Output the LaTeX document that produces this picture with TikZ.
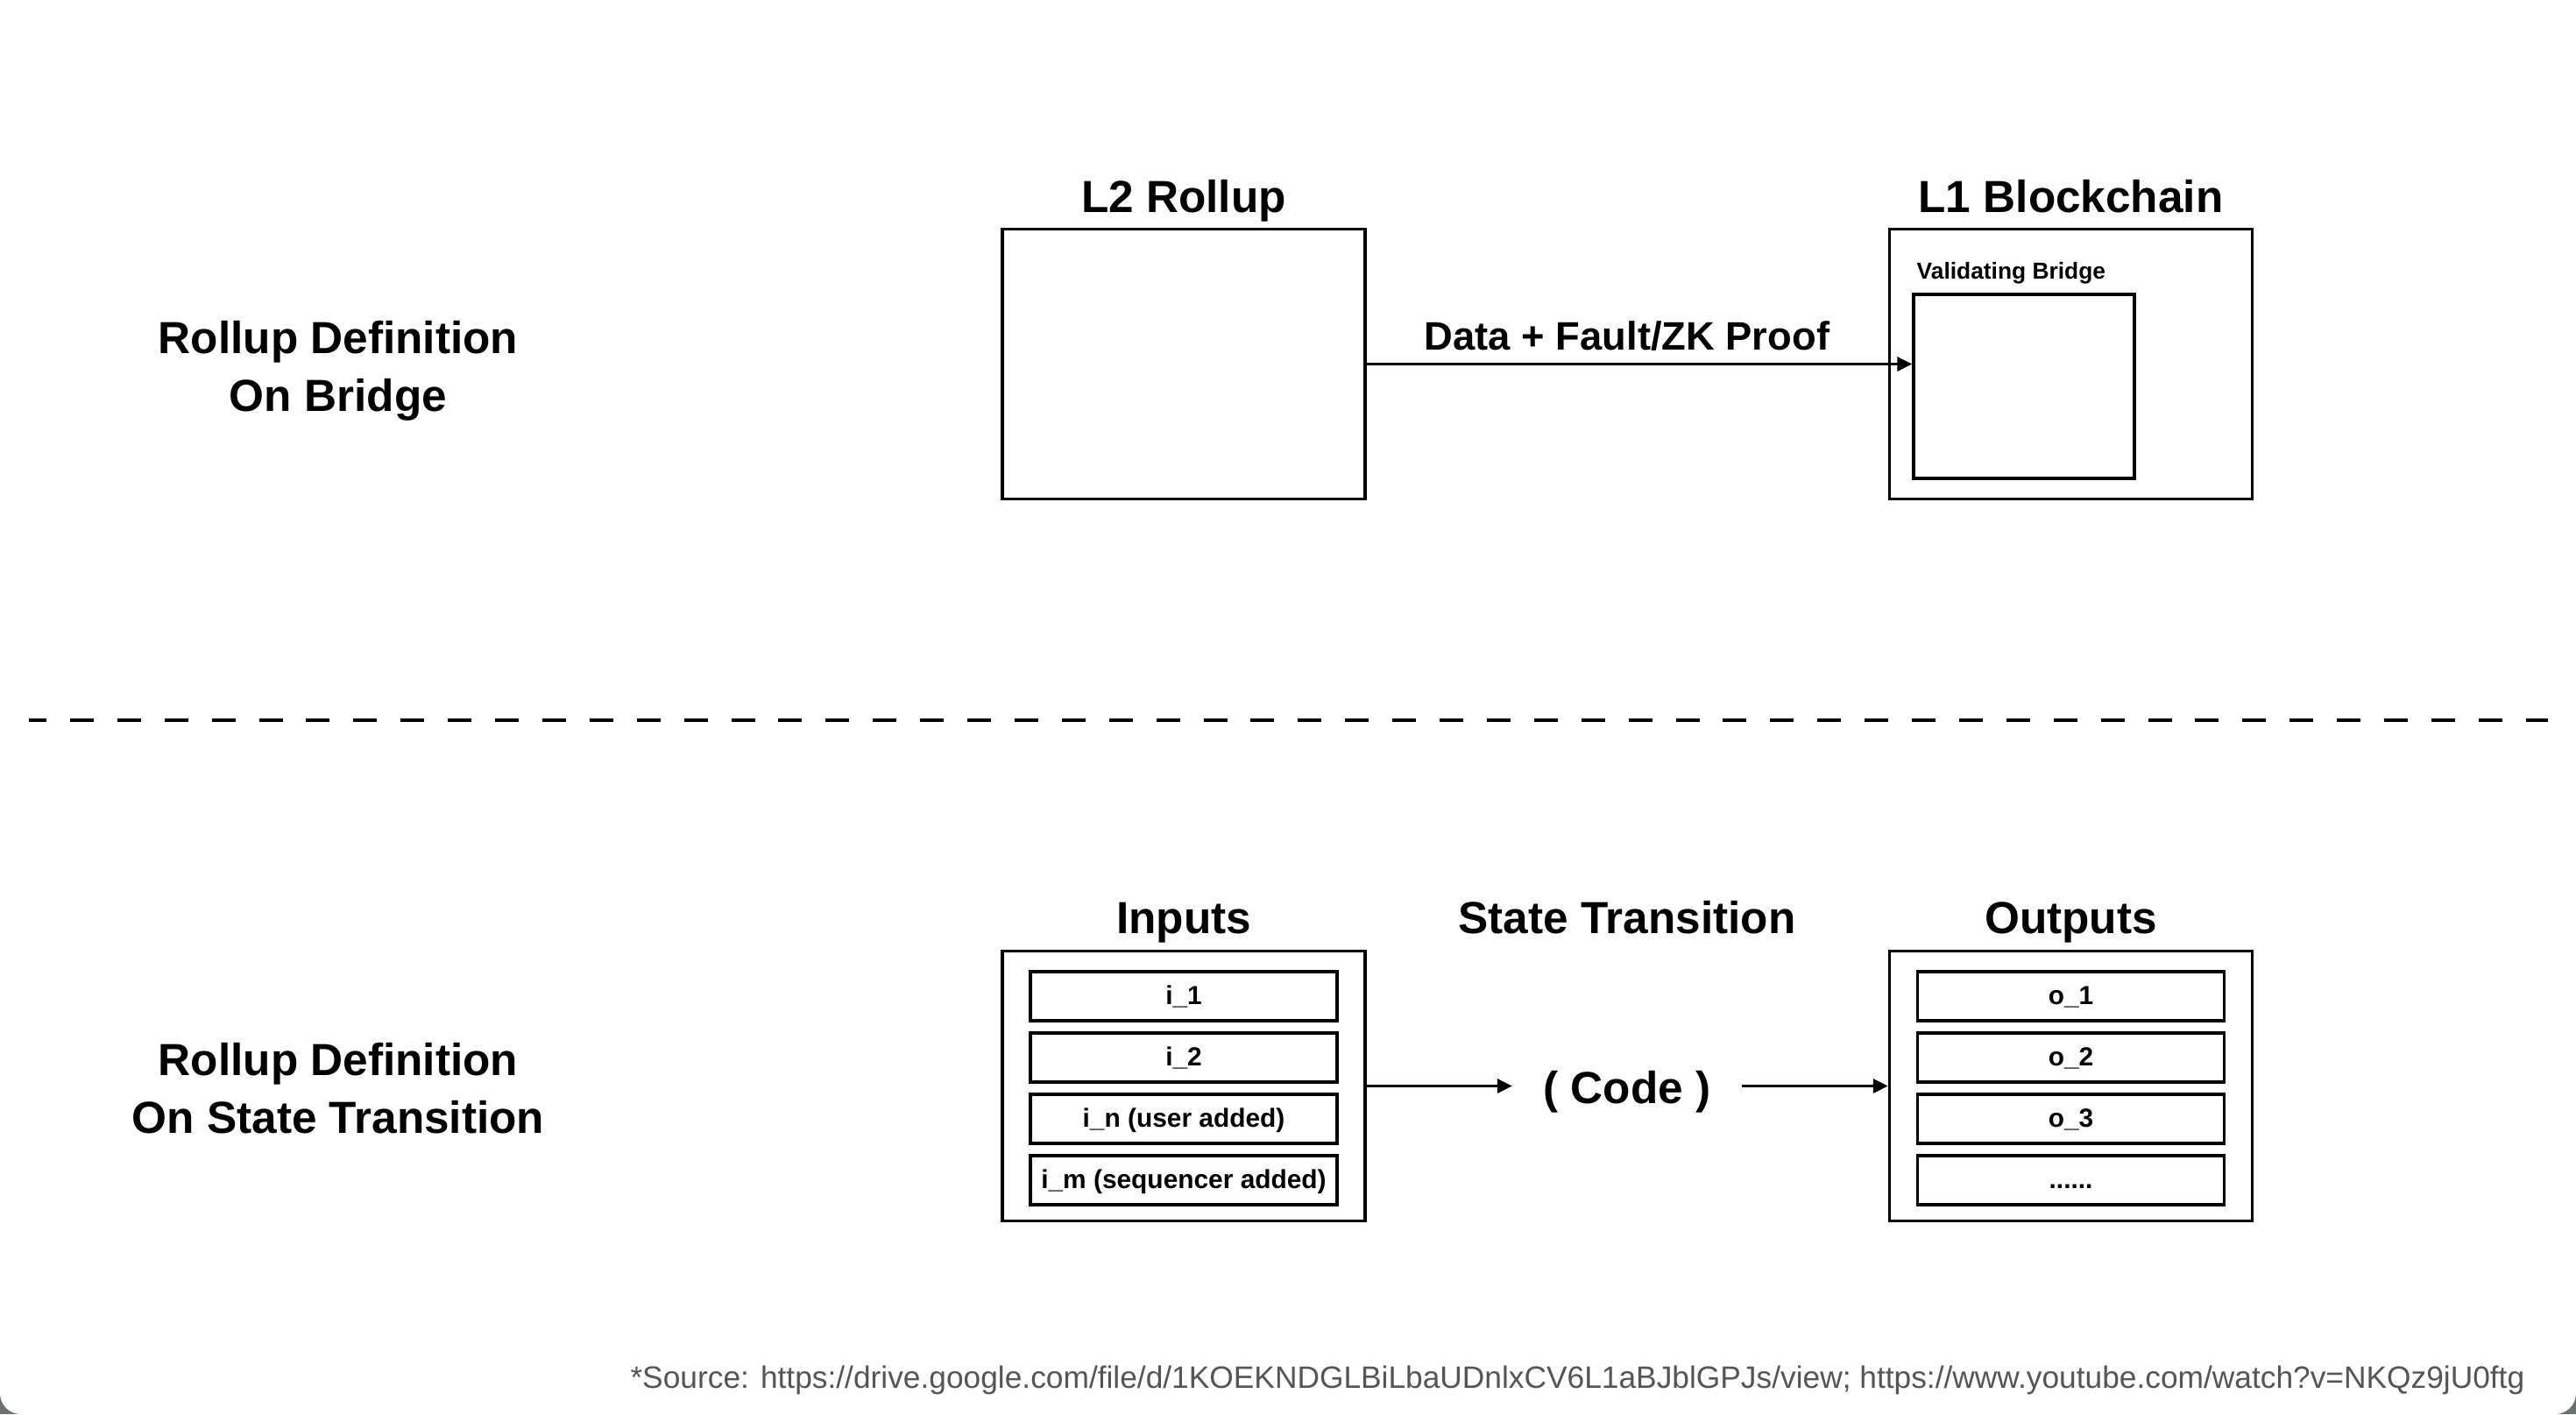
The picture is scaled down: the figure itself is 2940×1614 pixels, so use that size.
\documentclass[tikz,border=0pt]{standalone}
\usepackage{fontspec}
\setmainfont{Liberation Sans}
\usetikzlibrary{arrows.meta}
\definecolor{frame}{RGB}{108,112,112}
\definecolor{srcgray}{RGB}{85,85,85}
\begin{document}
\begin{tikzpicture}[x=0.1mm,y=-0.1mm,
  box/.style={draw=black,line width=0.35mm,fill=white,inner sep=0pt,minimum width=41.4mm,minimum height=30.8mm},
  rowbox/.style={draw=black,line width=0.35mm,inner sep=0pt,minimum width=35mm,minimum height=5.6mm,
     font=\fontsize{8.5pt}{10pt}\selectfont\bfseries,text height=2.15mm,text depth=0.3mm},
  title/.style={inner sep=0pt,anchor=base,font=\fontsize{14.6pt}{17pt}\selectfont\bfseries},
  arr/.style={line width=0.35mm,-{Triangle[length=1.7mm,width=1.6mm]}}]
\useasboundingbox (0,0) rectangle (2940,1614);
\fill[frame] (0,0) rectangle (2940,1614);
\fill[white,rounded corners=2.4mm] (0,-100) rectangle (2940,1614);

% left labels
\node[title] (lab1a) at (386,403) {Rollup Definition};
\node[title] (lab1b) at (386,469) {On Bridge};
\node[title] (lab2a) at (386,1227) {Rollup Definition};
\node[title] (lab2b) at (386,1293) {On State Transition};

% top section
\node[box] (l2) at (1351,415.5) {};
\node[box] (l1) at (2363.5,415.5) {};
\node[draw=black,line width=0.35mm,inner sep=0pt,minimum width=25.2mm,minimum height=21mm] (vb) at (2310,441) {};
\node[title] (l2t) at (1351,242) {L2 Rollup};
\node[title] (l1t) at (2363.5,242) {L1 Blockchain};
\node[inner sep=0pt,anchor=base west,font=\fontsize{7.5pt}{9pt}\selectfont\bfseries] (vbt) at (2187,318) {Validating Bridge};
\node[inner sep=0pt,anchor=base,font=\fontsize{12.9pt}{15pt}\selectfont\bfseries] (dlab) at (1857,399) {Data + Fault/ZK Proof};
\draw[arr] (l2.east) -- (l2.east -| vb.west);

% dashed separator
\coordinate (dsA) at (33,822);
\coordinate (dsB) at (2908,822);
\draw[line width=0.4mm,dash pattern=on 2.7mm off 2.69mm,dash phase=0.7mm] (dsA) -- (dsB);

% bottom section
\node[box] (inp) at (1351,1239.5) {};
\node[box] (out) at (2363.5,1239.5) {};
\node[title] (inpt) at (1351,1065) {Inputs};
\node[title] (outt) at (2363.5,1065) {Outputs};
\node[title] (stt) at (1857,1065) {State Transition};
\node[inner sep=0pt,minimum width=26.1mm,font=\fontsize{14.6pt}{17pt}\selectfont\bfseries] (code) at (1857,1246) {( Code )};

\node[rowbox] (i1) at (1351,1137) {i\_1};
\node[rowbox] (i2) at (1351,1207) {i\_2};
\node[rowbox] (in) at (1351,1277) {i\_n (user added)};
\node[rowbox] (im) at (1351,1347) {i\_m (sequencer added)};
\node[rowbox] (o1) at (2363.5,1137) {o\_1};
\node[rowbox] (o2) at (2363.5,1207) {o\_2};
\node[rowbox] (o3) at (2363.5,1277) {o\_3};
\node[rowbox] (od) at (2363.5,1347) {......};

\draw[arr] (inp.east) -- (inp.east -| code.west);
\draw[arr] (code.east |- out.west) -- (out.west);

% source
\node[inner sep=0pt,anchor=base east,text=srcgray,font=\fontsize{10.05pt}{12pt}\selectfont] (src) at (2882,1584)
 {*Source: https://drive.google.com/file/d/1KOEKNDGLBiLbaUDnlxCV6L1aBJblGPJs/view; https://www.youtube.com/watch?v=NKQz9jU0ftg};
\end{tikzpicture}
\end{document}
